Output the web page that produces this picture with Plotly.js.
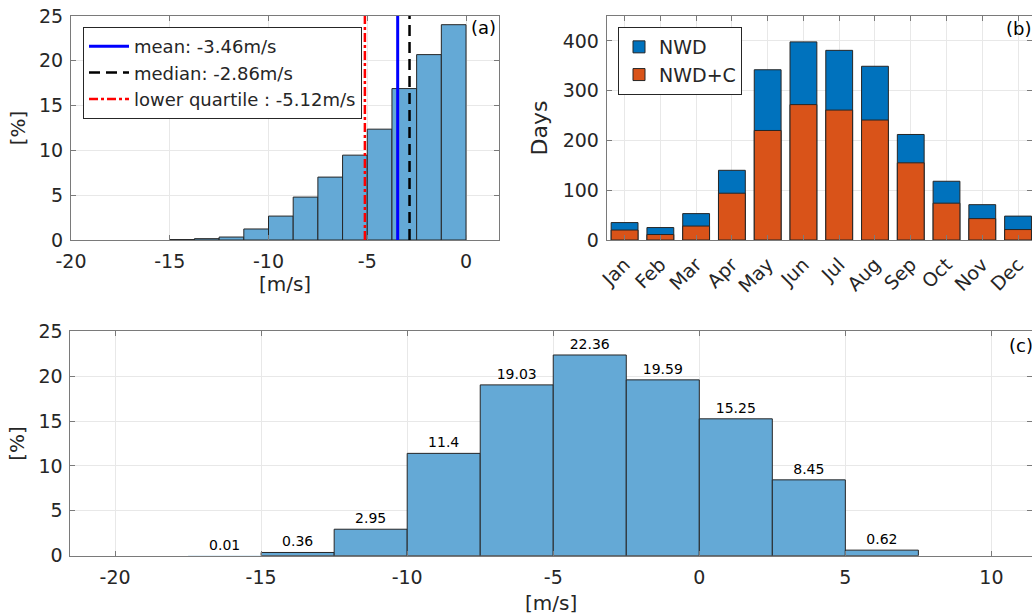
<!DOCTYPE html>
<html>
<head>
<meta charset="utf-8">
<script src="https://cdn.plot.ly/plotly-3.0.1.min.js"></script>
<style>html,body{margin:0;padding:0;background:#fff;}#chart{width:1032px;height:616px;}</style>
</head>
<body>
<div id="chart"></div>
<script>
// ---- Panel (a): histogram of speeds (bin edges, %), statistics ----
const aEdges = [-15, -13.75, -12.5, -11.25, -10, -8.75, -7.5, -6.25, -5, -3.75, -2.5, -1.25, 0];
const aPct = [0.05, 0.15, 0.33, 1.23, 2.67, 4.79, 7.02, 9.47, 12.37, 16.9, 20.69, 24.03];
const statMean = -3.46;
const statMedian = -2.86;
const statLowerQuartile = -5.12;

// ---- Panel (b): days per month ----
const months = ["Jan","Feb","Mar","Apr","May","Jun","Jul","Aug","Sep","Oct","Nov","Dec"];
const nwdDays = [35, 25, 53, 140, 342, 398, 381, 349, 212, 118, 71, 48];
const nwdCDays = [20, 11, 28, 94, 220, 272, 261, 241, 155, 74, 43, 21];

// ---- Panel (c): histogram with labelled bins ----
const cEdges = [-17.5, -15, -12.5, -10, -7.5, -5, -2.5, 0, 2.5, 5, 7.5];
const cPct = [0.01, 0.36, 2.95, 11.4, 19.03, 22.36, 19.59, 15.25, 8.45, 0.62];

// ---- tick labels ----
const aTicks = [-20, -15, -10, -5, 0];
const cTicks = [-20, -15, -10, -5, 0, 5, 10];
const pctTicks = [0, 5, 10, 15, 20, 25];
const dayTicks = [0, 100, 200, 300, 400];

function centers(e){ const c=[]; for(let i=0;i<e.length-1;i++) c.push((e[i]+e[i+1])/2); return c; }
function widths(e){ const w=[]; for(let i=0;i<e.length-1;i++) w.push(e[i+1]-e[i]); return w; }
const lbl = v => v.map(t => String(t));

const W = 1032, H = 616;
const histFill = 'rgb(100,169,214)';
const edge = '#262626';
const txt = '#262626';
const FONT = 'DejaVu Sans, sans-serif';

const traces = [
  { type:'bar', x:centers(aEdges), y:aPct, width:widths(aEdges), xaxis:'x', yaxis:'y',
    marker:{color:histFill, line:{color:edge, width:1}}, showlegend:false, hoverinfo:'skip' },
  { type:'scatter', mode:'lines', x:[statMean, statMean], y:[0,25], xaxis:'x', yaxis:'y',
    line:{color:'#0000ff', width:3}, name:'mean: ' + statMean + 'm/s', legend:'legend' },
  { type:'scatter', mode:'lines', x:[statMedian, statMedian], y:[0,25], xaxis:'x', yaxis:'y',
    line:{color:'#000000', width:2.5, dash:'11px,6px'}, name:'median: ' + statMedian + 'm/s', legend:'legend' },
  { type:'scatter', mode:'lines', x:[statLowerQuartile, statLowerQuartile], y:[0,25], xaxis:'x', yaxis:'y',
    line:{color:'#ff0000', width:2.5, dash:'9px,3px,3px,3px'}, name:'lower quartile : ' + statLowerQuartile + 'm/s', legend:'legend' },

  { type:'bar', x:months.map((m,i)=>i+1), y:nwdDays, xaxis:'x2', yaxis:'y2', width:0.75,
    marker:{color:'#0072BD', line:{color:edge, width:1}}, name:'NWD', legend:'legend2' },
  { type:'bar', x:months.map((m,i)=>i+1), y:nwdCDays, xaxis:'x2', yaxis:'y2', width:0.75,
    marker:{color:'#D95319', line:{color:edge, width:1}}, name:'NWD+C', legend:'legend2' },

  { type:'bar', x:centers(cEdges), y:cPct, width:widths(cEdges), xaxis:'x3', yaxis:'y3',
    marker:{color:histFill, line:{color:edge, width:cPct.map(v => v < 0.05 ? 0 : 1)}},
    showlegend:false, hoverinfo:'skip',
    text:lbl(cPct), textposition:'outside', cliponaxis:false, constraintext:'none',
    textfont:{family:FONT, size:14, color:'#000'} }
];

const axLine = { showline:true, linecolor:'#7a7a7a', linewidth:1, mirror:'ticks', ticks:'inside',
  ticklen:5, tickcolor:'#7a7a7a', showgrid:true, gridcolor:'#e8e8e8', gridwidth:1, zeroline:false,
  tickfont:{family:FONT, size:19, color:txt}, automargin:false, fixedrange:true };

const layout = {
  width:W, height:H, autosize:false,
  margin:{l:0, r:0, t:0, b:0},
  paper_bgcolor:'#fff', plot_bgcolor:'#fff',
  font:{family:FONT, color:txt},
  barmode:'overlay',
  showlegend:true,
  xaxis: Object.assign({}, axLine, { domain:[71/W, 499/W], range:[-20, 1.67], anchor:'y',
    tickvals:aTicks, ticktext:lbl(aTicks), ticklabelstandoff:4,
    title:{text:'[m/s]', font:{family:FONT, size:20, color:txt}, standoff:2} }),
  yaxis: Object.assign({}, axLine, { domain:[1-240/H, 1-16/H], range:[0,25], anchor:'x',
    tickvals:pctTicks, ticktext:lbl(pctTicks), ticklabelstandoff:3,
    title:{text:'[%]', font:{family:FONT, size:20, color:txt}, standoff:8} }),
  xaxis2: Object.assign({}, axLine, { domain:[606.7/W, 1], range:[0.5, 12.39], anchor:'y2',
    tickvals:months.map((m,i)=>i+1), ticktext:months, tickangle:-45, ticklabelstandoff:5 }),
  yaxis2: Object.assign({}, axLine, { domain:[1-240/H, 1-16/H], range:[0,450], anchor:'x2',
    tickvals:dayTicks, ticktext:lbl(dayTicks), ticklabelstandoff:3,
    title:{text:'Days', font:{family:FONT, size:22, color:txt}, standoff:8} }),
  xaxis3: Object.assign({}, axLine, { domain:[70.4/W, 1], range:[-21.53, 11.39], anchor:'y3',
    tickvals:cTicks, ticktext:lbl(cTicks), ticklabelstandoff:4,
    title:{text:'[m/s]', font:{family:FONT, size:20, color:txt}, standoff:9} }),
  yaxis3: Object.assign({}, axLine, { domain:[1-555.7/H, 1-331.3/H], range:[0,25], anchor:'x3',
    tickvals:pctTicks, ticktext:lbl(pctTicks), ticklabelstandoff:3,
    title:{text:'[%]', font:{family:FONT, size:20, color:txt}, standoff:8} }),
  legend:{ x:83/W, y:1-27/H, xanchor:'left', yanchor:'top', bgcolor:'#fff',
    bordercolor:'#262626', borderwidth:1, font:{family:FONT, size:18, color:txt},
    tracegroupgap:0, itemwidth:40 },
  legend2:{ x:618/W, y:1-27/H, xanchor:'left', yanchor:'top', bgcolor:'#fff',
    bordercolor:'#262626', borderwidth:1, font:{family:FONT, size:19, color:txt},
    tracegroupgap:0, traceorder:'normal' },
  annotations:[
    { text:'(a)', xref:'paper', yref:'paper', x:498/W, y:1-28/H, xanchor:'right', yanchor:'middle',
      showarrow:false, font:{family:FONT, size:18, color:'#000'} },
    { text:'(b)', xref:'paper', yref:'paper', x:1033/W, y:1-29/H, xanchor:'right', yanchor:'middle',
      showarrow:false, font:{family:FONT, size:18, color:'#000'} },
    { text:'(c)', xref:'paper', yref:'paper', x:1035/W, y:1-345/H, xanchor:'right', yanchor:'middle',
      showarrow:false, font:{family:FONT, size:18, color:'#000'} }
  ]
};

Plotly.newPlot('chart', traces, layout, {staticPlot:true, displayModeBar:false});
</script>
</body>
</html>
